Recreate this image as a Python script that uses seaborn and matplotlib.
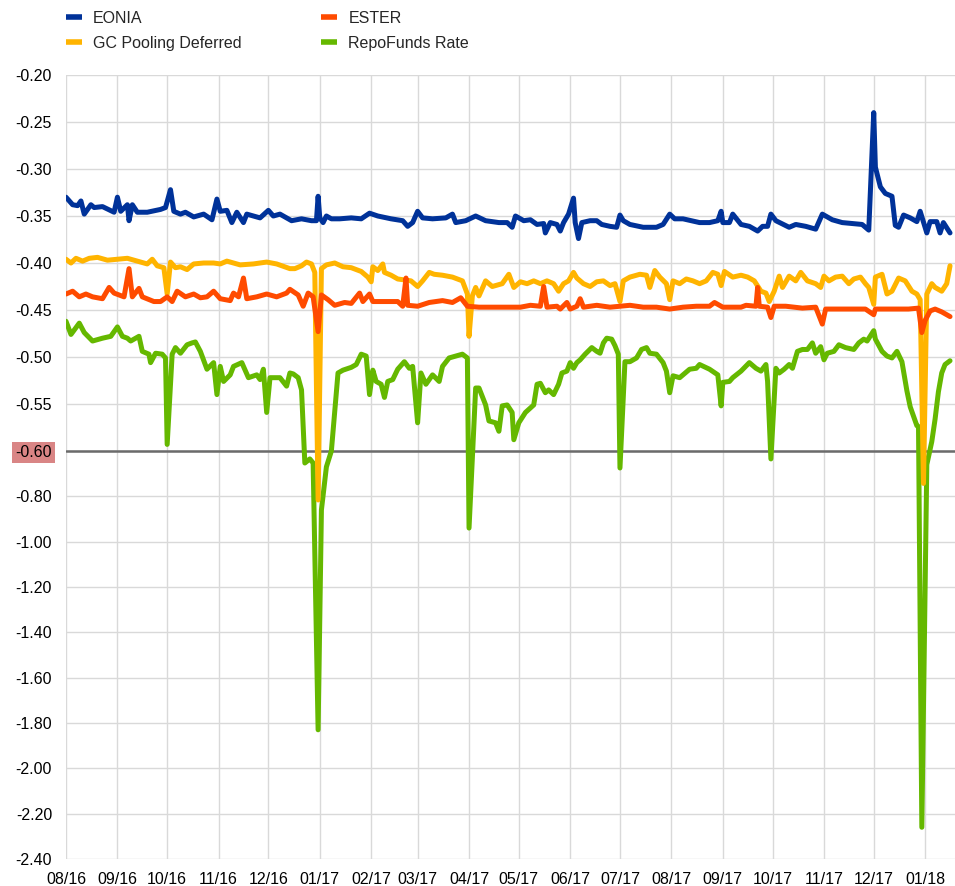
import numpy as np
import pandas as pd
import matplotlib
matplotlib.use("Agg")
import matplotlib.pyplot as plt
import matplotlib.dates as mdates
from matplotlib.lines import Line2D
import seaborn as sns

# ---------------- data (days since 2016-08-01, values in %) ----------------
start_date = "2016-08-01"

eonia_days = [0,4,7,9,11,15,17,22,29,31,33,37,38,40,43,49,57,60,63,65,69,72,77,83,88,91,93,97,100,103,107,109,117,122,125,129,
              136,142,148,151,152,153,155,157,160,165,172,178,183,188,196,203,206,209,212,215,221,229,233,235,241,247,253,261,266,269,271,
              276,280,284,288,289,292,296,298,300,303,306,307,309,311,316,320,323,328,332,334,336,340,348,356,360,364,367,372,377,382,388,393,395,396,400,402,
              407,412,417,420,423,425,428,436,440,446,452,456,462,468,474,480,484,487,488,491,494,498,500,502,505,509,513,515,519,521,525,527,529,533]
eonia_vals = [-0.330,-0.338,-0.339,-0.334,-0.348,-0.338,-0.341,-0.340,-0.346,-0.330,-0.345,-0.338,-0.355,-0.338,-0.346,-0.346,-0.343,-0.341,-0.322,-0.345,
              -0.348,-0.346,-0.351,-0.348,-0.354,-0.332,-0.345,-0.344,-0.357,-0.346,-0.357,-0.348,-0.352,-0.344,-0.350,-0.348,
              -0.355,-0.353,-0.355,-0.355,-0.329,-0.352,-0.357,-0.350,-0.353,-0.353,-0.352,-0.353,-0.347,-0.350,-0.353,-0.355,-0.361,-0.357,-0.345,-0.352,
              -0.353,-0.352,-0.348,-0.357,-0.355,-0.350,-0.355,-0.357,-0.357,-0.362,-0.350,
              -0.355,-0.354,-0.359,-0.358,-0.368,-0.357,-0.359,-0.366,-0.357,-0.348,-0.331,-0.357,-0.374,-0.357,-0.355,-0.355,-0.359,-0.361,-0.362,-0.349,
              -0.355,-0.359,-0.362,-0.362,-0.359,-0.348,-0.353,-0.353,-0.355,-0.357,-0.357,-0.355,-0.345,-0.357,-0.357,-0.348,
              -0.359,-0.361,-0.366,-0.361,-0.361,-0.348,-0.355,-0.362,-0.359,-0.361,-0.364,-0.348,-0.354,-0.357,-0.358,-0.359,-0.365,-0.240,-0.298,-0.319,
              -0.326,-0.329,-0.360,-0.362,-0.349,-0.352,-0.356,-0.345,-0.368,-0.356,-0.356,-0.368,-0.357,-0.368]

ester_days = [0,4,8,12,16,22,26,29,35,38,40,44,46,53,57,61,64,67,72,77,81,85,89,93,99,101,104,107,109,115,121,127,133,
              135,140,143,146,149,152,154,158,162,168,172,177,179,183,185,192,200,203,205,206,212,219,227,233,238,242,249,257,263,271,
              274,280,286,288,290,296,298,302,304,308,310,312,320,328,334,340,348,356,364,372,380,388,391,396,407,
              410,416,417,418,423,425,427,434,444,452,456,458,464,474,482,487,488,498,508,514,516,518,521,524,528,533]
ester_vals = [-0.433,-0.430,-0.436,-0.433,-0.436,-0.438,-0.426,-0.432,-0.436,-0.406,-0.436,-0.427,-0.436,-0.441,-0.441,-0.436,-0.441,-0.430,-0.436,-0.433,
              -0.437,-0.436,-0.430,-0.438,-0.440,-0.432,-0.436,-0.416,-0.438,-0.436,-0.433,-0.436,-0.432,
              -0.428,-0.434,-0.446,-0.432,-0.436,-0.473,-0.434,-0.439,-0.445,-0.442,-0.443,-0.432,-0.441,-0.433,-0.441,-0.441,-0.441,-0.446,-0.416,-0.445,
              -0.446,-0.442,-0.440,-0.442,-0.437,-0.446,-0.447,-0.447,-0.447,-0.447,
              -0.447,-0.445,-0.446,-0.425,-0.447,-0.446,-0.449,-0.442,-0.449,-0.446,-0.438,-0.447,-0.445,-0.447,-0.446,-0.445,-0.447,-0.447,-0.449,-0.447,
              -0.446,-0.446,-0.442,-0.447,-0.447,
              -0.445,-0.446,-0.426,-0.446,-0.447,-0.458,-0.446,-0.446,-0.448,-0.447,-0.465,-0.449,-0.449,-0.449,-0.449,-0.455,-0.449,-0.449,-0.449,-0.448,
              -0.474,-0.461,-0.451,-0.449,-0.452,-0.457]

gc_days = [0,3,6,10,14,19,25,31,37,43,49,52,55,59,61,63,66,69,73,77,83,89,93,97,105,113,121,127,135,
           138,142,145,148,150,152,154,157,162,167,172,178,182,184,185,188,191,192,196,200,204,208,212,215,219,222,227,233,239,242,
           243,245,247,249,253,257,263,267,270,
           274,278,282,286,290,294,297,300,303,306,308,312,316,320,324,328,331,334,336,340,346,350,352,355,358,362,364,366,370,374,
           378,382,386,390,393,395,397,402,407,
           411,415,419,422,424,427,430,432,436,440,443,447,452,455,457,460,464,468,472,475,479,482,484,487,488,492,495,498,502,506,
           510,513,515,517,519,522,524,528,531,533]
gc_vals = [-0.396,-0.400,-0.395,-0.398,-0.395,-0.394,-0.397,-0.396,-0.395,-0.398,-0.401,-0.396,-0.403,-0.405,-0.433,-0.399,-0.405,-0.404,-0.407,-0.401,
           -0.400,-0.400,-0.401,-0.398,-0.402,-0.401,-0.399,-0.401,-0.406,
           -0.406,-0.403,-0.399,-0.401,-0.410,-0.816,-0.406,-0.402,-0.400,-0.404,-0.405,-0.409,-0.415,-0.420,-0.404,-0.408,-0.401,-0.410,-0.413,-0.417,
           -0.418,-0.419,-0.425,-0.419,-0.410,-0.412,-0.413,-0.415,-0.419,-0.433,
           -0.478,-0.435,-0.426,-0.435,-0.419,-0.425,-0.422,-0.412,-0.426,
           -0.420,-0.422,-0.419,-0.422,-0.419,-0.422,-0.430,-0.422,-0.419,-0.410,-0.416,-0.422,-0.425,-0.420,-0.419,-0.424,-0.422,-0.441,-0.419,-0.415,
           -0.412,-0.413,-0.426,-0.408,-0.415,-0.422,-0.439,-0.419,-0.422,-0.417,
           -0.419,-0.422,-0.419,-0.410,-0.412,-0.424,-0.409,-0.415,-0.413,
           -0.415,-0.419,-0.430,-0.432,-0.441,-0.430,-0.414,-0.426,-0.414,-0.419,-0.410,-0.419,-0.422,-0.426,-0.414,-0.419,-0.415,-0.414,-0.422,-0.417,
           -0.415,-0.422,-0.426,-0.444,-0.415,-0.412,-0.433,-0.430,-0.416,-0.419,
           -0.430,-0.433,-0.439,-0.743,-0.433,-0.422,-0.426,-0.430,-0.422,-0.403]

repo_days = [0,3,8,11,16,22,27,31,34,37,39,42,44,46,50,51,54,58,60,61,64,66,69,73,76,78,81,85,89,91,93,95,99,101,106,110,115,117,119,121,
             123,129,133,135,
             137,140,142,144,147,149,152,154,157,160,164,167,172,175,178,181,183,185,187,190,192,194,197,200,204,207,209,212,214,217,
             221,225,227,231,235,239,242,243,247,249,253,255,259,261,263,266,269,270,
             273,277,282,284,286,289,291,294,297,299,302,304,306,308,310,313,317,320,322,324,326,329,331,333,334,337,340,344,347,350,
             352,356,360,362,364,366,370,372,376,380,382,388,393,395,396,400,402,407,
             412,416,419,422,423,425,428,430,433,436,438,441,444,447,450,452,455,457,459,463,466,470,475,478,481,483,487,488,492,495,
             498,501,504,507,509,513,514,516,519,522,524,526,528,530,533]
repo_vals = [-0.462,-0.476,-0.464,-0.474,-0.483,-0.480,-0.478,-0.468,-0.478,-0.480,-0.483,-0.480,-0.478,-0.494,-0.497,-0.506,-0.496,-0.497,-0.501,-0.593,
             -0.497,-0.490,-0.496,-0.487,-0.485,-0.484,-0.494,-0.513,-0.506,-0.540,-0.510,-0.526,-0.519,-0.510,-0.506,-0.522,-0.519,-0.524,-0.513,-0.559,
             -0.522,-0.522,-0.531,-0.517,
             -0.518,-0.522,-0.535,-0.653,-0.635,-0.653,-1.830,-0.860,-0.670,-0.600,-0.517,-0.514,-0.511,-0.508,-0.497,-0.499,-0.540,-0.514,-0.526,-0.529,
             -0.543,-0.526,-0.524,-0.513,-0.505,-0.512,-0.510,-0.570,-0.517,-0.529,-0.519,-0.526,-0.510,-0.501,-0.499,-0.497,-0.501,-0.940,-0.533,-0.533,
             -0.551,-0.568,-0.570,-0.579,-0.552,-0.551,-0.559,-0.588,
             -0.570,-0.559,-0.551,-0.529,-0.528,-0.538,-0.535,-0.540,-0.529,-0.517,-0.515,-0.506,-0.512,-0.506,-0.503,-0.497,-0.490,-0.494,-0.496,-0.485,
             -0.480,-0.481,-0.488,-0.497,-0.675,-0.505,-0.505,-0.501,-0.492,-0.490,-0.496,-0.497,-0.506,-0.515,-0.538,-0.520,-0.522,-0.519,-0.513,-0.512,
             -0.508,-0.513,-0.519,-0.552,-0.527,-0.526,-0.522,-0.515,
             -0.506,-0.512,-0.515,-0.508,-0.526,-0.635,-0.512,-0.517,-0.513,-0.508,-0.512,-0.494,-0.492,-0.492,-0.485,-0.496,-0.489,-0.503,-0.496,-0.494,
             -0.487,-0.490,-0.492,-0.485,-0.481,-0.483,-0.472,-0.481,-0.494,-0.499,-0.501,-0.494,-0.505,-0.536,-0.553,-0.573,-0.574,-2.260,-0.660,-0.590,
             -0.566,-0.537,-0.517,-0.508,-0.504]

series_names = ["EONIA", "GC Pooling Deferred", "ESTER", "RepoFunds Rate"]
series_colors = {"EONIA": "#003299", "GC Pooling Deferred": "#ffb400",
                 "ESTER": "#ff4b00", "RepoFunds Rate": "#65b800"}

y_ticks_top = [-0.20, -0.25, -0.30, -0.35, -0.40, -0.45, -0.50, -0.55, -0.60]
y_ticks_bottom = [-0.80, -1.00, -1.20, -1.40, -1.60, -1.80, -2.00, -2.20, -2.40]
axis_break = -0.60

# ---------------- build frames ----------------
t0 = pd.Timestamp(start_date)
def frame(days, vals, name):
    return pd.DataFrame({"date": t0 + pd.to_timedelta(days, unit="D"),
                         "value": vals, "series": name})

frames = {
    "EONIA": frame(eonia_days, eonia_vals, "EONIA"),
    "GC Pooling Deferred": frame(gc_days, gc_vals, "GC Pooling Deferred"),
    "ESTER": frame(ester_days, ester_vals, "ESTER"),
    "RepoFunds Rate": frame(repo_days, repo_vals, "RepoFunds Rate"),
}

# ---------------- figure ----------------
sns.set_style("white")
plt.rcParams["font.family"] = ["Liberation Sans", "DejaVu Sans"]

fig = plt.figure(figsize=(9.55, 8.86), dpi=100)
ax = fig.add_axes([66/955, 1-859/886, 1-66/955, (859-75)/886])

k = (408/1.8) / (376/0.4)   # compression of the lower part of the axis
def fwd(v):
    v = np.asarray(v, dtype=float)
    return np.where(v >= axis_break, v, axis_break + (v - axis_break) * k)
def inv(u):
    u = np.asarray(u, dtype=float)
    return np.where(u >= axis_break, u, axis_break + (u - axis_break) / k)
ax.set_yscale("function", functions=(fwd, inv))

ax.axhline(axis_break, color="#6b6b6b", lw=1.8, zorder=1.5)

for name in ["RepoFunds Rate", "GC Pooling Deferred", "ESTER", "EONIA"]:
    sns.lineplot(data=frames[name], x="date", y="value", ax=ax,
                 color=series_colors[name], lw=3.6, legend=False,
                 solid_joinstyle="round", solid_capstyle="round", zorder=3)

ax.set_ylim(-2.40, -0.20)
ax.set_xlim(t0, t0 + pd.Timedelta(days=536))
ax.set_yticks(y_ticks_top + y_ticks_bottom)
ax.set_yticklabels([f"{v:.2f}" for v in y_ticks_top + y_ticks_bottom])
ax.xaxis.set_major_locator(mdates.MonthLocator())
ax.xaxis.set_major_formatter(mdates.DateFormatter("%m/%y"))

ax.grid(True, color="#d9d9d9", lw=1)
ax.set_axisbelow(True)
for s in ax.spines.values():
    s.set_visible(False)
ax.tick_params(axis="both", length=0, labelsize=11.5, colors="black")
ax.tick_params(axis="y", pad=10)
ax.tick_params(axis="x", pad=9)
ax.set_xlabel("")
ax.set_ylabel("")

for lab in ax.get_yticklabels():
    if lab.get_text() == "-0.60":
        lab.set_bbox(dict(boxstyle="square,pad=0.2", fc="#d98585", ec="none"))

handles = [Line2D([], [], color=series_colors[n], lw=4, solid_capstyle="butt") for n in series_names]
fig.legend(handles, series_names, ncol=2, loc="upper left",
           bbox_to_anchor=(66/955, 1-11/886), frameon=False, fontsize=11.5,
           handlelength=1.0, handletextpad=0.69, columnspacing=5.0,
           borderpad=0, borderaxespad=0, labelspacing=0.6)

fig.savefig("out.png", dpi=100)
